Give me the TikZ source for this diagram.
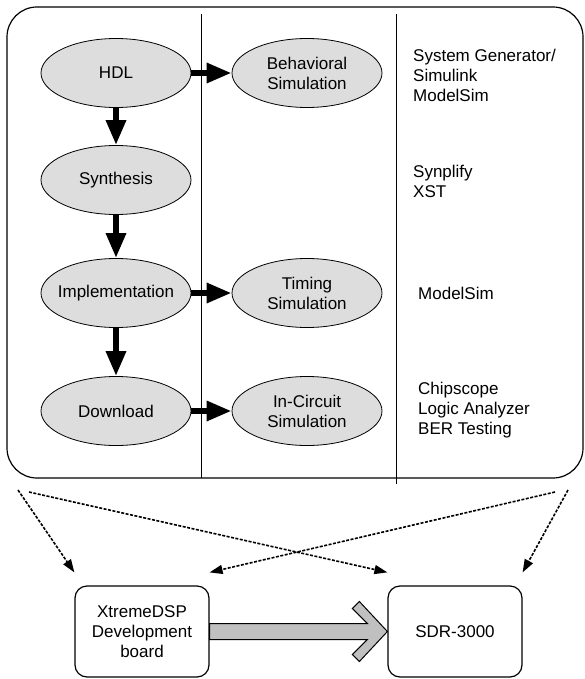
\documentclass[tikz,border=0pt]{standalone}
\usepackage{fontspec}
\setmainfont{Liberation Sans}
\usetikzlibrary{arrows.meta,shapes.geometric,calc}
\definecolor{stagegray}{RGB}{221,221,221}
\definecolor{boardgray}{RGB}{192,192,192}

\begin{document}
\begin{tikzpicture}[
		x=1pt, y=-1pt,
		every node/.style={font=\fontsize{17}{20}\selectfont},
		stage/.style={ellipse,draw=black,fill=stagegray,line width=0.8pt,
		inner xsep=-15pt,inner ysep=0pt,minimum width=150pt,minimum height=69pt,
		align=center},
		board/.style={draw=black,rounded corners=12pt,line width=1.2pt,
		inner sep=0pt,minimum width=134pt,minimum height=91pt,align=center},
		tool/.style={anchor=west,align=left,inner sep=0pt},
		flow/.style={-{Triangle[length=25pt,width=19pt]},line width=6pt},
		target/.style={-{Triangle[length=13pt,width=9pt]},line width=1.6pt,
		dash pattern=on 3pt off 1.5pt},
		bigarrow/.style={draw=black,fill=boardgray,line width=1pt}
		]
		\useasboundingbox (0,0) rectangle (585,679);
		\draw[line width=1.2pt, rounded corners=30pt] (7,7) rectangle (583,478);
		\draw[line width=0.9pt] (201,14) -- (201,478);
		\draw[line width=0.9pt] (396,14) -- (396,484);

		\node[stage] (hdl) at (116,73) {HDL};
		\node[stage] (synth) at (116,180) {Synthesis};
		\node[stage] (impl) at (116,293) {Implementation};
		\node[stage] (down) at (116,411) {Download};
		\node[stage] (behav) at (307,73) {Behavioral\\Simulation};
		\node[stage] (timing) at (307,293) {Timing\\Simulation};
		\node[stage] (incirc) at (307,411) {In-Circuit\\Simulation};

		\node[tool] (t1) at (413,75) {System Generator/\\Simulink\\ModelSim};
		\node[tool] (t2) at (413,181) {Synplify\\XST};
		\node[tool] (t3) at (418,293) {ModelSim};
		\node[tool] (t4) at (418,410) {Chipscope\\Logic Analyzer\\BER Testing};

		\draw[flow] (hdl) -- (behav);
		\draw[flow] (hdl) -- (synth);
		\draw[flow] (synth) -- (impl);
		\draw[flow] (impl) -- (timing);
		\draw[flow] (impl) -- (down);
		\draw[flow] (down) -- (incirc);

		\node[board] (xdsp) at (142,631.5) {XtremeDSP\\Development\\board};
		\node[board] (sdr) at (455,631.5) {SDR-3000};

		\coordinate (s1) at (18,490);
		\coordinate (s2) at (29,492);
		\coordinate (s3) at (555,492);
		\coordinate (s4) at (568,490);
		\draw[target] (s1) -- ([yshift=13pt]xdsp.north west);
		\draw[target] (s2) -- ([yshift=13pt]sdr.north west);
		\draw[target] (s3) -- ([yshift=13pt]xdsp.north east);
		\draw[target] (s4) -- ([yshift=13pt]sdr.north east);

		\draw[bigarrow] ($(xdsp.east)+(0,-8)$) -- ($(sdr.west)+(-20,-8)$)
			-- ++(-15,-15) -- ++(7,-7) -- (sdr.west) -- ++(-28,30)
			-- ++(-7,-7) -- ++(15,-15) -- ($(xdsp.east)+(0,8)$) -- cycle;
	\end{tikzpicture}
\end{document}
